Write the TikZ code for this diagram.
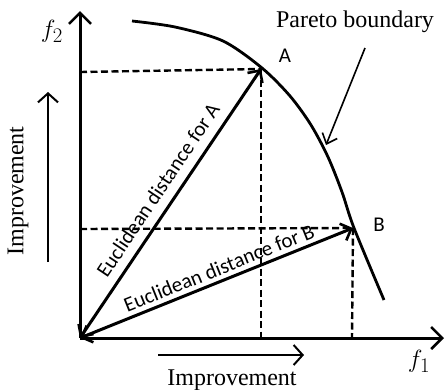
\documentclass[tikz,border=0pt]{standalone}
\usepackage{fontspec}
\setmainfont{Liberation Serif}
\newfontfamily\lblfont{Carlito}
\usetikzlibrary{arrows.meta}
\begin{document}
\begin{tikzpicture}[x=1pt,y=-1pt,
  axisln/.style={line width=3pt,-{Straight Barb[length=11pt,width=22pt,line width=2.6pt]}},
  dashln/.style={line width=2.4pt,dash pattern=on 7pt off 3.5pt},
  distln/.style={line width=3pt,{Straight Barb[length=9pt,width=18pt,line width=2.6pt]}-{Straight Barb[length=9pt,width=18pt,line width=2.6pt]}},
  improv/.style={line width=2pt,-{Straight Barb[length=9pt,width=20pt,line width=2pt]}},
  pointer/.style={line width=1.6pt,-{Straight Barb[length=9pt,width=16pt,line width=1.6pt]}},
  serlbl/.style={font=\fontsize{24}{26}\selectfont,inner sep=0pt},
  sanlbl/.style={font=\lblfont\fontsize{21}{23}\selectfont,inner sep=0pt},
  mathlbl/.style={font=\fontsize{28}{30}\selectfont,inner sep=0pt}]
\useasboundingbox (0,0) rectangle (446,389);
\coordinate (O) at (80,338);
\coordinate (A) at (261,69);
\coordinate (B) at (353,228);
\coordinate (Ytop) at (80,11);
\coordinate (Xend) at (444,338);
\coordinate (Ay) at (80,72);
\coordinate (Ax) at (261,338);
\coordinate (By) at (80,229);
\coordinate (Bx) at (352,338);
% Pareto curve
\draw[line width=2.8pt] plot[smooth,tension=0.5] coordinates {(132,21) (175,27) (223,41) (262,68) (290,96) (311,125) (328,157) (342,192) (354,228) (384,300)};
% dashed projections
\draw[dashln] (Ay) -- (A);
\draw[dashln] (A) -- (Ax);
\draw[dashln] (By) -- (B);
\draw[dashln] (B) -- (Bx);
% axes
\draw[axisln] (O) -- (Ytop);
\draw[axisln] (O) -- (Xend);
% distances
\draw[distln] (O) -- (A);
\draw[distln] (O) -- (B);
\node[sanlbl,rotate=56.2] (dA) at (158,190) {Euclidean distance for A};
\node[sanlbl,rotate=21.9] (dB) at (219,268) {Euclidean distance for B};
% labels
\node[sanlbl] (lA) at (285,56) {A};
\node[sanlbl] (lB) at (379,225) {B};
\node[mathlbl] (f2) at (52,31) {$f_2$};
\node[mathlbl] (f1) at (419,361) {$f_1$};
\node[serlbl] (pb) at (355,22) {Pareto boundary};
\coordinate (pbs) at (365,48);
\coordinate (pbe) at (326,145);
\draw[pointer] (pbs) -- (pbe);
% improvement arrows
\coordinate (ly0) at (48,262);
\coordinate (ly1) at (48,92);
\draw[improv] (ly0) -- (ly1);
\node[serlbl,rotate=90] (ilab) at (18,191) {Improvement};
\coordinate (lx0) at (158,355);
\coordinate (lx1) at (304,355);
\draw[improv] (lx0) -- (lx1);
\node[serlbl] (ibot) at (232,380) {Improvement};
\end{tikzpicture}
\end{document}
